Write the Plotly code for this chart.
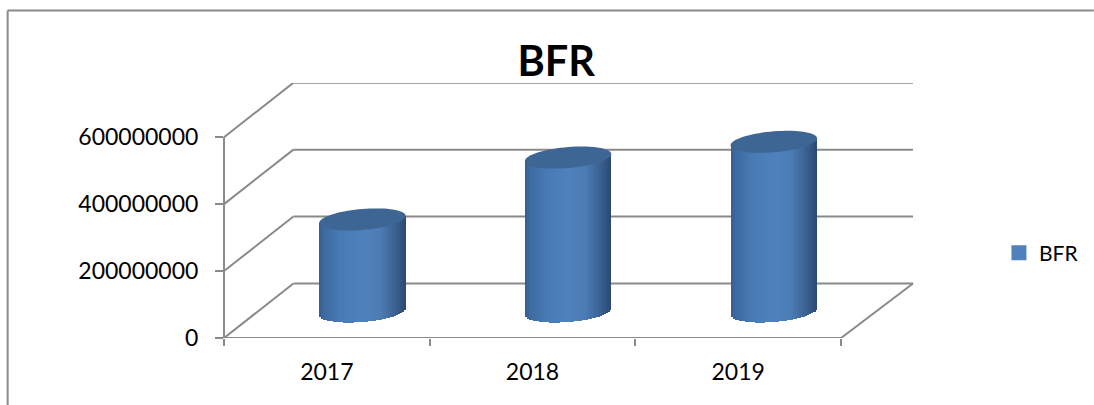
import math
import plotly.graph_objects as go

categories = ["2017", "2018", "2019"]
bfr_values = [275000000, 460000000, 507000000]
y_ticks = [0, 200000000, 400000000, 600000000]
series_name = "BFR"
title_text = "BFR"

W, H = 1094, 405
L, R, T, B = 223.5, 913.0, 83.0, 338.0
CAT_PX = (841.0 - L) / 3
Y_PER_PX = 600000000 / 200.8
YMAX = (B - T) * Y_PER_PX
DEPTH_DX, DEPTH_DY = 69.5, 54.5
FLOOR = 26.5 * Y_PER_PX       # cylinder base sits mid-way in floor depth
CYL_OFF = 0.173
CYL_W = 86.5 / CAT_PX
TILT = 3.5 * Y_PER_PX
BELLY = 10.5 * Y_PER_PX
GREY = "#8a8a8a"
FONT = "Lato"

stops = [(0.0, (52, 94, 146)), (0.05, (60, 106, 160)), (0.25, (72, 122, 180)),
         (0.5, (79, 129, 189)), (0.7, (76, 124, 180)), (0.88, (58, 96, 144)), (1.0, (42, 72, 112))]

def shade(t):
    for (a, ca), (b, cb) in zip(stops, stops[1:]):
        if t <= b:
            f = (t - a) / (b - a)
            return "rgb(%d,%d,%d)" % tuple(round(p + (q - p) * f) for p, q in zip(ca, cb))
    return "rgb(42,72,112)"

fig = go.Figure()
N = 43
sw = CYL_W / N
for i in range(N):
    u = (i + 0.5) / N
    t = 2 * u - 1
    bottom = FLOOR + TILT * t - BELLY * math.sqrt(max(0, 1 - t * t))
    fig.add_trace(go.Bar(
        x=categories,
        base=[bottom] * 3,
        y=[FLOOR + v + TILT * t - bottom for v in bfr_values],
        width=sw * (1.25 if i < N - 1 else 1.0),
        offset=CYL_OFF - CYL_W / 2 + i * sw,
        marker=dict(color=shade(u), line=dict(width=0)),
        showlegend=False, hoverinfo="skip",
    ))

fig.add_trace(go.Scatter(
    x=categories, y=[None] * 3, mode="markers", name=series_name,
    marker=dict(symbol="square", size=15, color="#4F81BD"),
))

shapes = []
def ln(x0, y0, x1, y1, xref="x domain"):
    return dict(type="line", xref=xref, yref="y", x0=x0, y0=y0, x1=x1, y1=y1,
                line=dict(color=GREY, width=2), layer="below")

dom = DEPTH_DX / (R - L)
depth = DEPTH_DY * Y_PER_PX
for v in y_ticks:
    shapes.append(ln(0, v, dom, v + depth))
    shapes.append(ln(dom, v + depth, 1, v + depth))
front_end = (841.0 - L) / (R - L)
shapes.append(ln(0, 0, front_end, 0))
shapes.append(ln(front_end, 0, 1, depth))
shapes.append(ln(0, 0, 0, y_ticks[-1]))

for k, v in enumerate(bfr_values):
    pts = []
    for j in range(73):
        a = 2 * math.pi * j / 72
        px = k + CYL_OFF + CYL_W / 2 * math.cos(a)
        py = FLOOR + v + TILT * math.cos(a) + BELLY * math.sin(a)
        pts.append(("M" if j == 0 else "L") + f"{px:.5f},{py:.1f}")
    shapes.append(dict(type="path", xref="x", yref="y", path=" ".join(pts) + " Z",
                       fillcolor="#3E6694", line=dict(width=0), layer="above"))

# outer chart frame
shapes.append(dict(type="line", xref="paper", yref="paper", x0=-L/(R-L)+7/(R-L), x1=(W-L)/(R-L),
                   y0=(H-10.5-(H-B))/(B-T), y1=(H-10.5-(H-B))/(B-T), line=dict(color=GREY, width=2)))
shapes.append(dict(type="line", xref="paper", yref="paper", x0=-L/(R-L)+7/(R-L), x1=-L/(R-L)+7/(R-L),
                   y0=(H-10.5-(H-B))/(B-T), y1=-(H-B)/(B-T), line=dict(color=GREY, width=2)))

fig.update_layout(
    width=W, height=H, autosize=False,
    margin=dict(l=L, r=W - R, t=T, b=H - B, pad=0, autoexpand=False),
    paper_bgcolor="white", plot_bgcolor="rgba(0,0,0,0)",
    barmode="overlay", bargap=0,
    font=dict(family=FONT, color="#000000"),
    title=dict(text="<b>" + title_text + "</b>", font=dict(size=41.5, family=FONT),
               xref="paper", x=(556 - L) / (R - L), xanchor="center",
               yref="container", y=1 - 61 / H, yanchor="middle", automargin=False),
    xaxis=dict(type="category", categoryorder="array", categoryarray=categories,
               range=[-0.5, -0.5 + (R - L) / CAT_PX], tickson="boundaries", ticks="outside",
               ticklen=7, tickwidth=1.5, tickcolor=GREY, showline=False, showgrid=False,
               zeroline=False, tickfont=dict(size=23, family=FONT), automargin=False, fixedrange=True,
               ticklabelstandoff=18),
    yaxis=dict(range=[0, YMAX], tickmode="array", tickvals=y_ticks,
               ticktext=[str(v) for v in y_ticks], ticks="outside", ticklen=8, tickwidth=1.5,
               tickcolor=GREY, showline=False, showgrid=False, zeroline=False,
               tickfont=dict(size=23, family=FONT), automargin=False, fixedrange=True,
               ticklabelstandoff=12),
    legend=dict(x=(999 - L) / (R - L), xanchor="left", y=(B - 253) / (B - T), yanchor="middle",
                font=dict(size=21, family=FONT), bgcolor="rgba(0,0,0,0)", itemclick=False),
    showlegend=True,
    shapes=shapes,
)

fig.write_html("out.html", config={"displayModeBar": False},
               post_script="document.body.style.margin='0';")
